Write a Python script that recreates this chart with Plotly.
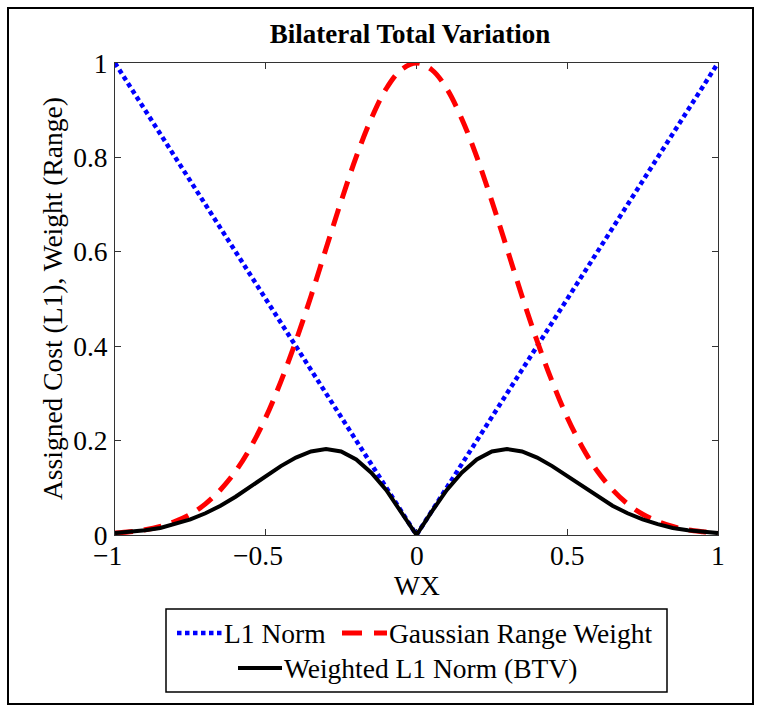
import plotly.graph_objects as go

# ---- data ----
wx = [-1.00, -0.95, -0.90, -0.85, -0.80, -0.75, -0.70, -0.65, -0.60, -0.55,
      -0.50, -0.45, -0.40, -0.35, -0.30, -0.25, -0.20, -0.15, -0.10, -0.05,
      0.00, 0.05, 0.10, 0.15, 0.20, 0.25, 0.30, 0.35, 0.40, 0.45,
      0.50, 0.55, 0.60, 0.65, 0.70, 0.75, 0.80, 0.85, 0.90, 0.95, 1.00]

gaussian_weight = [0.004, 0.007, 0.011, 0.018, 0.029, 0.044, 0.066, 0.096, 0.135, 0.186,
                   0.249, 0.325, 0.411, 0.506, 0.607, 0.707, 0.801, 0.882, 0.946, 0.986,
                   1.000, 0.986, 0.946, 0.882, 0.801, 0.707, 0.607, 0.506, 0.411, 0.325,
                   0.249, 0.186, 0.135, 0.096, 0.066, 0.044, 0.029, 0.018, 0.011, 0.007, 0.004]

weighted_l1 = [0.004, 0.006, 0.010, 0.015, 0.023, 0.033, 0.046, 0.062, 0.081, 0.102,
               0.125, 0.146, 0.164, 0.177, 0.182, 0.177, 0.160, 0.132, 0.095, 0.049,
               0.000, 0.049, 0.095, 0.132, 0.160, 0.177, 0.182, 0.177, 0.164, 0.146,
               0.125, 0.102, 0.081, 0.062, 0.046, 0.033, 0.023, 0.015, 0.010, 0.006, 0.004]

l1_x = [-1.0, 0.0, 1.0]
l1_y = [1.0, 0.0, 1.0]

x_ticks = [-1, -0.5, 0, 0.5, 1]
x_tick_labels = ["\u22121", "\u22120.5", "0", "0.5", "1"]
y_ticks = [0, 0.2, 0.4, 0.6, 0.8, 1]
y_tick_labels = ["0", "0.2", "0.4", "0.6", "0.8", "1"]

title_text = "Bilateral Total Variation"
x_title = "WX"
y_title = "Assigned Cost (L1), Weight (Range)"
legend_labels = ["L1 Norm", "Gaussian Range Weight", "Weighted L1 Norm (BTV)"]

# ---- layout helpers (pixel -> paper) ----
FW, FH = 762, 713
L, R, T, B = 115, 718, 63, 535
PW, PH = R - L, B - T


def px(x):
    return (x - L) / PW


def py(y):
    return (B - y) / PH


FONT = "Liberation Serif, Times New Roman, serif"
FS = 27.5
BLUE = "#0000FF"
RED = "#FF0000"
BLACK = "#000000"
AXC = "#333333"
L1_DASH = "4.5px,3.5px"
G_DASH = "18px,11px"

fig = go.Figure()
fig.add_trace(go.Scatter(x=l1_x, y=l1_y, mode="lines", name=legend_labels[0],
                         line=dict(color=BLUE, width=4.5, dash=L1_DASH),
                         cliponaxis=False, showlegend=False))
fig.add_trace(go.Scatter(x=wx, y=gaussian_weight, mode="lines", name=legend_labels[1],
                         line=dict(color=RED, width=5, dash=G_DASH, shape="spline"),
                         cliponaxis=False, showlegend=False))
fig.add_trace(go.Scatter(x=wx, y=weighted_l1, mode="lines", name=legend_labels[2],
                         line=dict(color=BLACK, width=4),
                         cliponaxis=False, showlegend=False))

axis_common = dict(showline=True, linecolor=AXC, linewidth=1, mirror="ticks",
                   ticks="inside", ticklen=6, tickcolor=AXC, showgrid=False,
                   zeroline=False, layer="below traces",
                   tickfont=dict(family=FONT, size=FS, color=BLACK))

# x tick labels are drawn as annotations at the tick values (for exact vertical placement)
fig.update_xaxes(range=[-1, 1], tickmode="array", tickvals=x_ticks, ticktext=x_tick_labels,
                 showticklabels=False, **axis_common)
fig.update_yaxes(range=[0, 1], tickmode="array", tickvals=y_ticks, ticktext=y_tick_labels,
                 ticklabelstandoff=1, **axis_common)

shapes = [
    # outer figure frame
    dict(type="rect", xref="paper", yref="paper", x0=px(8), x1=px(753), y0=py(704), y1=py(8),
         line=dict(color=BLACK, width=2), layer="below"),
    # legend box
    dict(type="rect", xref="paper", yref="paper", x0=px(166), x1=px(667), y0=py(692), y1=py(609),
         line=dict(color=BLACK, width=1.5), fillcolor="white", layer="below"),
    # legend samples
    dict(type="line", xref="paper", yref="paper", x0=px(177), x1=px(222), y0=py(633), y1=py(633),
         line=dict(color=BLUE, width=4.5, dash=L1_DASH)),
    dict(type="line", xref="paper", yref="paper", x0=px(342), x1=px(387), y0=py(633), y1=py(633),
         line=dict(color=RED, width=5, dash="20px,12px")),
    dict(type="line", xref="paper", yref="paper", x0=px(238), x1=px(282), y0=py(668), y1=py(668),
         line=dict(color=BLACK, width=4)),
]

txt_font = dict(family=FONT, size=FS, color=BLACK)
annotations = [
    dict(text=legend_labels[0], xref="paper", yref="paper", x=px(223), y=py(633),
         xanchor="left", yanchor="middle", showarrow=False, borderpad=0, font=txt_font),
    dict(text=legend_labels[1], xref="paper", yref="paper", x=px(388), y=py(633),
         xanchor="left", yanchor="middle", showarrow=False, borderpad=0, font=txt_font),
    dict(text=legend_labels[2], xref="paper", yref="paper", x=px(283), y=py(668),
         xanchor="left", yanchor="middle", showarrow=False, borderpad=0, font=txt_font),
    # axis titles
    dict(text=x_title, xref="paper", yref="paper", x=0.5, y=py(585),
         xanchor="center", yanchor="middle", showarrow=False, borderpad=0, font=txt_font),
    dict(text=y_title, xref="paper", yref="paper", x=px(52), y=0.5, textangle=-90,
         xanchor="center", yanchor="middle", showarrow=False, borderpad=0, font=txt_font),
]
# negative labels: the number is centred on the tick, the minus sign hangs to the left
for tv, tt in zip(x_ticks, x_tick_labels):
    annotations.append(dict(text=tt, xref="x", yref="paper", x=tv, y=py(555),
                            xanchor="center", yanchor="middle", showarrow=False,
                            xshift=-8 if tt.startswith("\u2212") else 0,
                            borderpad=0, font=txt_font))

fig.update_layout(
    width=FW, height=FH,
    margin=dict(l=L, r=FW - R, t=T, b=FH - B, autoexpand=False),
    paper_bgcolor="white", plot_bgcolor="white",
    title=dict(text="<b>" + title_text + "</b>", x=410 / FW, xanchor="center",
               xref="container", yref="container", y=1 - 33.5 / FH, yanchor="middle",
               font=dict(family=FONT, size=27, color=BLACK)),
    shapes=shapes, annotations=annotations, showlegend=False,
)

# remove the browser's default 8px page margin so the figure sits at the window origin
fig.write_html("out.html", config={"displayModeBar": False},
               post_script="document.body.style.margin='0';")
